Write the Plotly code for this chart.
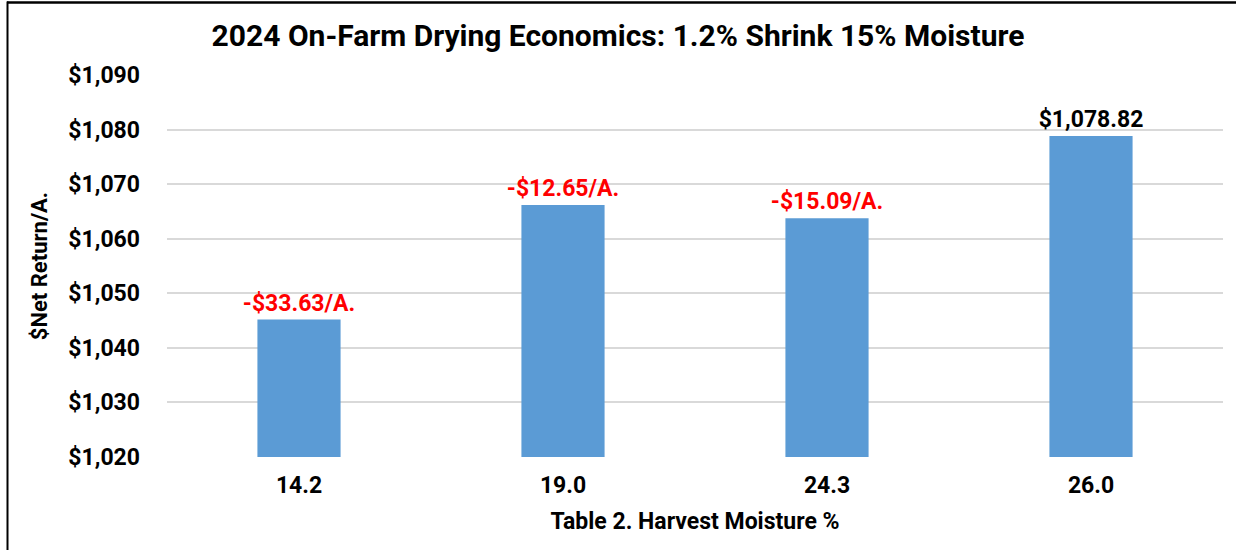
import plotly.graph_objects as go

categories = ["14.2", "19.0", "24.3", "26.0"]
net_return = [1045.19, 1066.17, 1063.73, 1078.82]
bar_labels = ["-$33.63/A.", "-$12.65/A.", "-$15.09/A.", "$1,078.82"]
label_colors = ["#FF0000", "#FF0000", "#FF0000", "#000000"]
y_ticks = [1020, 1030, 1040, 1050, 1060, 1070, 1080, 1090]
y_tick_text = ["$1,020", "$1,030", "$1,040", "$1,050", "$1,060", "$1,070", "$1,080", "$1,090"]

FONT = "Roboto"

fig = go.Figure()
fig.add_trace(go.Bar(
    x=categories, y=net_return,
    marker=dict(color="#5B9BD5", line=dict(width=0)),
    width=0.315,
    text=bar_labels,
    textposition="outside",
    constraintext="none",
    textfont=dict(family=FONT, size=23, color=label_colors, weight="bold"),
    cliponaxis=False,
    hoverinfo="skip",
))

W, H = 1236, 550
ml, mr, mt, mb = 167, 13, 75, 93
pw, ph = W - ml - mr, H - mt - mb

def px_x(p):
    return (p - ml) / pw

def px_y(p):
    return (H - mb - p) / ph

fig.update_layout(
    width=W, height=H,
    margin=dict(l=ml, r=mr, t=mt, b=mb),
    paper_bgcolor="white", plot_bgcolor="white",
    showlegend=False,
    title=dict(
        text="<b>2024 On-Farm Drying Economics: 1.2% Shrink 15% Moisture</b>",
        font=dict(family=FONT, size=30, color="#000000"),
        x=0.5, xanchor="center", xref="container",
        y=1 - 35 / H, yanchor="middle", yref="container",
    ),
    xaxis=dict(
        type="category",
        tickfont=dict(family=FONT, size=23, color="#000000", weight="bold"),
        ticklabelstandoff=12,
        title=dict(text="<b>Table 2. Harvest Moisture %</b>",
                   font=dict(family=FONT, size=23, color="#000000"), standoff=14),
        showline=False, showgrid=False, ticks="",
    ),
    yaxis=dict(
        range=[1020, 1090],
        tickvals=y_ticks, ticktext=y_tick_text,
        tickfont=dict(family=FONT, size=23, color="#000000", weight="bold"),
        ticklabelstandoff=26,
        showgrid=True, gridcolor="#D9D9D9", gridwidth=1.5,
        zeroline=False, showline=False, ticks="",
        title=dict(text="<b>$Net Return/A.</b>",
                   font=dict(family=FONT, size=22, color="#000000"), standoff=14),
    ),
    shapes=[
        dict(type="line", xref="paper", yref="paper",
             x0=px_x(7), x1=px_x(1240), y0=px_y(2.5), y1=px_y(2.5),
             line=dict(color="#000000", width=2.5)),
        dict(type="line", xref="paper", yref="paper",
             x0=px_x(7.5), x1=px_x(7.5), y0=px_y(1.5), y1=px_y(560),
             line=dict(color="#000000", width=2)),
    ],
)

fig.write_html("out.html", config={"displayModeBar": False},
               post_script="document.body.style.margin='0';")
